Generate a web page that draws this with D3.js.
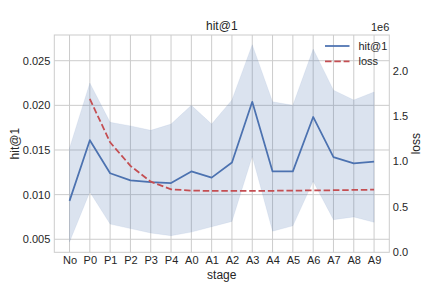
<!DOCTYPE html>
<html>
<head>
<meta charset="utf-8">
<script src="https://cdn.jsdelivr.net/npm/d3@7"></script>
<style>
  body { margin: 0; background: #fff; }
  text { font-family: "Liberation Sans", Arial, sans-serif; fill: #262626; }
</style>
</head>
<body>
<svg id="chart" width="432" height="288"></svg>
<script>

// values
var stages = ['No', 'P0', 'P1', 'P2', 'P3', 'P4', 'A0', 'A1', 'A2', 'A3', 'A4', 'A5', 'A6', 'A7', 'A8', 'A9'];

var hitMean  = [0.0093, 0.0161, 0.0124, 0.0116, 0.0114, 0.0113, 0.0126, 0.0119, 0.0136, 0.0204, 0.0126, 0.0126, 0.0187, 0.0142, 0.0135, 0.0137];
var hitUpper = [0.0152, 0.0225, 0.0181, 0.0177, 0.0172, 0.0179, 0.0200, 0.0179, 0.0206, 0.0268, 0.0204, 0.0200, 0.0263, 0.0217, 0.0206, 0.0215];
var hitLower = [0.0047, 0.0103, 0.0067, 0.0062, 0.0057, 0.0054, 0.0058, 0.0064, 0.0070, 0.0143, 0.0059, 0.0065, 0.0115, 0.0072, 0.0075, 0.0069];

var loss = [null, 1690000, 1210000, 950000, 775000, 690000, 676000, 672000, 672000, 673000, 674000, 676000, 678000, 680000, 683000, 686000];

var leftTicks  = [0.005, 0.010, 0.015, 0.020, 0.025];
var rightTicks = [0, 500000, 1000000, 1500000, 2000000];

var blue = '#4c72b0',
    red  = '#c44e52',
    grid = '#cccccc';

var svg = d3.select('#chart');

var bounds = { left: 54.3, right: 389.3, top: 35, bottom: 252.3 };

var xScale = d3.scaleLinear().domain([-0.75, 15.75]).range([bounds.left, bounds.right]);
var yScale = d3.scaleLinear().domain([0.00354, 0.02788]).range([bounds.bottom, bounds.top]);
var y2Scale = d3.scaleLinear().domain([-7000, 2398000]).range([bounds.bottom, bounds.top]);

// grid
var gridG = svg.append('g');
gridG.selectAll('.vgrid')
    .data(stages)
    .enter()
        .append('line')
        .attr('x1', function(d, i) { return xScale(i); })
        .attr('x2', function(d, i) { return xScale(i); })
        .attr('y1', bounds.top)
        .attr('y2', bounds.bottom)
        .attr('stroke', grid)
        .attr('stroke-width', 1);

gridG.selectAll('.hgrid')
    .data(leftTicks)
    .enter()
        .append('line')
        .attr('x1', bounds.left)
        .attr('x2', bounds.right)
        .attr('y1', function(d) { return yScale(d); })
        .attr('y2', function(d) { return yScale(d); })
        .attr('stroke', grid)
        .attr('stroke-width', 1);

// confidence band
var band = d3.area()
    .x(function(d, i) { return xScale(i); })
    .y0(function(d, i) { return yScale(hitLower[i]); })
    .y1(function(d, i) { return yScale(hitUpper[i]); });

svg.append('path')
    .datum(stages)
    .attr('d', band)
    .attr('fill', blue)
    .attr('fill-opacity', 0.2)
    .attr('stroke', blue)
    .attr('stroke-opacity', 0.08)
    .attr('stroke-width', 1);

var hitLine = d3.line()
    .x(function(d, i) { return xScale(i); })
    .y(function(d) { return yScale(d); });

svg.append('path')
    .datum(hitMean)
    .attr('d', hitLine)
    .attr('fill', 'none')
    .attr('stroke', blue)
    .attr('stroke-width', 1.75)
    .attr('stroke-linejoin', 'round');

var lossLine = d3.line()
    .defined(function(d) { return d != null; })
    .x(function(d, i) { return xScale(i); })
    .y(function(d) { return y2Scale(d); });

svg.append('path')
    .datum(loss)
    .attr('d', lossLine)
    .attr('fill', 'none')
    .attr('stroke', red)
    .attr('stroke-width', 1.75)
    .attr('stroke-dasharray', '6.5,2.8');

// frame
svg.append('rect')
    .attr('x', bounds.left)
    .attr('y', bounds.top)
    .attr('width', bounds.right - bounds.left)
    .attr('height', bounds.bottom - bounds.top)
    .attr('fill', 'none')
    .attr('stroke', grid)
    .attr('stroke-width', 1);

// axes, no tick marks (whitegrid)
var xAxis = d3.axisBottom(xScale)
    .tickValues(d3.range(stages.length))
    .tickFormat(function(i) { return stages[i]; })
    .tickSize(0)
    .tickPadding(4);

var yAxis = d3.axisLeft(yScale)
    .tickValues(leftTicks)
    .tickFormat(d3.format('.3f'))
    .tickSize(0)
    .tickPadding(4);

var y2Axis = d3.axisRight(y2Scale)
    .tickValues(rightTicks)
    .tickFormat(function(d) { return d3.format('.1f')(d / 1e6); })
    .tickSize(0)
    .tickPadding(3.5);

var gx = svg.append('g').attr('transform', 'translate(0,' + bounds.bottom + ')').call(xAxis);
var gy = svg.append('g').attr('transform', 'translate(' + bounds.left + ',0)').call(yAxis);
var gy2 = svg.append('g').attr('transform', 'translate(' + bounds.right + ',0)').call(y2Axis);

[gx, gy, gy2].forEach(function(g) {
    g.select('.domain').remove();
    g.selectAll('text')
        .style('font-size', '11px')
        .attr('fill', '#262626')
        .style('font-family', '"Liberation Sans", Arial, sans-serif');
});

// labels
svg.append('text')
    .attr('x', (bounds.left + bounds.right) / 2)
    .attr('y', 30)
    .attr('text-anchor', 'middle')
    .style('font-size', '12px')
    .text('hit@1');

svg.append('text')
    .attr('x', (bounds.left + bounds.right) / 2)
    .attr('y', 279)
    .attr('text-anchor', 'middle')
    .style('font-size', '12px')
    .text('stage');

svg.append('text')
    .attr('transform', 'translate(18.5,' + (bounds.top + bounds.bottom) / 2 + ') rotate(-90)')
    .attr('text-anchor', 'middle')
    .style('font-size', '12px')
    .text('hit@1');

svg.append('text')
    .attr('transform', 'translate(419.5,' + (bounds.top + bounds.bottom) / 2 + ') rotate(-90)')
    .attr('text-anchor', 'middle')
    .style('font-size', '12px')
    .text('loss');

svg.append('text')
    .attr('x', bounds.right)
    .attr('y', 31)
    .attr('text-anchor', 'end')
    .style('font-size', '11px')
    .text('1e6');

// legend
var legend = [
    { label: 'hit@1', color: blue, dash: null },
    { label: 'loss',  color: red,  dash: '6.5,2.8' }
];

var lg = svg.append('g').selectAll('g')
    .data(legend)
    .enter()
        .append('g')
        .attr('transform', function(d, i) { return 'translate(325,' + (46 + i * 15.3) + ')'; });

lg.append('line')
    .attr('x1', 0)
    .attr('x2', 24.5)
    .attr('stroke', function(d) { return d.color; })
    .attr('stroke-width', 1.75)
    .attr('stroke-dasharray', function(d) { return d.dash; });

lg.append('text')
    .attr('x', 33.5)
    .attr('dy', '0.35em')
    .style('font-size', '11px')
    .text(function(d) { return d.label; });

</script>
</body>
</html>
